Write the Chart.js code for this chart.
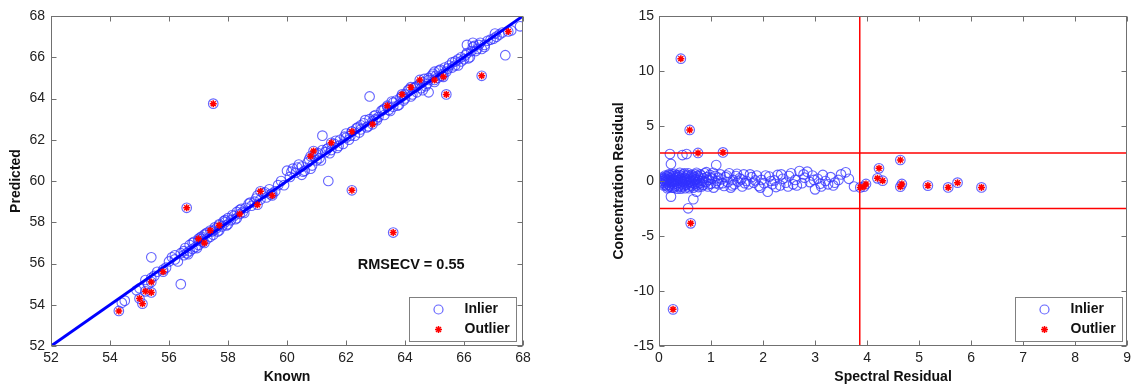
<!DOCTYPE html>
<html>
<head>
<meta charset="utf-8">
<script src="https://cdn.jsdelivr.net/npm/chart.js@4.4.1/dist/chart.umd.min.js"></script>
<style>
  html, body { margin: 0; padding: 0; background: #fff; }
  body { width: 1133px; height: 386px; position: relative; overflow: hidden; }
  .panel { position: absolute; top: 0; height: 386px; }
  #leftPanel { left: 0; width: 560px; }
  #rightPanel { left: 600px; width: 533px; }
</style>
</head>
<body>
<div class="panel" id="leftPanel"><canvas id="predChart"></canvas></div>
<div class="panel" id="rightPanel"><canvas id="residChart"></canvas></div>
<script>
// Tick labels
const knownTicks = [52, 54, 56, 58, 60, 62, 64, 66, 68];
const predictedTicks = [52, 54, 56, 58, 60, 62, 64, 66, 68];
const spectralTicks = [0, 1, 2, 3, 4, 5, 6, 7, 8, 9];
const concTicks = [-15, -10, -5, 0, 5, 10, 15];

// Left plot: known vs predicted
const fitLine = [[52, 52], [68, 68]];
const predInliers = [
    [54.4, 54.1], [54.5, 54.2], [54.9, 54.7], [55.0, 54.8], [55.2, 55.2], [55.3, 55.0], [55.4, 55.3],
    [55.5, 55.4], [55.6, 55.6], [55.8, 55.7], [55.9, 55.8], [56.0, 56.1], [56.1, 56.3], [56.2, 56.2],
    [56.2, 56.4], [56.3, 56.1], [56.4, 56.5], [56.5, 56.4], [56.5, 56.6], [56.6, 56.5], [56.7, 56.9],
    [56.7, 56.6], [56.8, 57.0], [56.8, 56.7], [56.9, 56.8], [57.0, 57.1], [57.0, 56.9], [57.1, 57.2],
    [57.1, 57.3], [57.2, 57.4], [57.3, 57.2], [57.3, 57.5], [57.4, 57.3], [57.5, 57.6], [57.5, 57.4],
    [57.6, 57.7], [57.7, 57.9], [57.7, 57.6], [57.8, 57.8], [57.9, 58.0], [57.9, 58.1], [58.0, 57.9],
    [58.0, 58.2], [58.1, 58.1], [58.2, 58.3], [58.3, 58.2], [58.3, 58.5], [58.4, 58.6], [58.5, 58.5],
    [58.6, 58.7], [58.7, 58.9], [58.8, 58.8], [58.9, 59.0], [59.0, 59.3], [59.1, 59.1], [59.2, 59.4],
    [59.3, 59.2], [59.4, 59.6], [59.5, 59.4], [59.6, 59.5], [59.8, 60.0], [59.9, 59.8], [60.0, 60.5],
    [60.1, 60.2], [60.2, 60.6], [60.3, 60.4], [60.4, 60.8], [60.5, 60.3], [60.5, 60.7], [60.6, 60.5],
    [60.7, 60.9], [60.8, 60.6], [60.9, 61.2], [61.0, 61.0], [61.0, 61.3], [61.1, 61.1], [61.2, 61.5],
    [61.2, 62.2], [61.3, 61.4], [61.4, 61.6], [61.5, 61.5], [61.6, 61.8], [61.7, 61.6], [61.8, 62.0],
    [61.9, 61.8], [62.0, 62.1], [62.0, 62.3], [62.1, 62.0], [62.2, 62.4], [62.3, 62.2], [62.4, 62.6],
    [62.5, 62.5], [62.5, 62.7], [62.6, 62.8], [62.7, 62.6], [62.8, 63.0], [62.9, 62.9], [63.0, 63.2],
    [63.0, 63.0], [63.1, 63.1], [63.2, 63.4], [63.3, 63.2], [63.3, 63.5], [63.4, 63.6], [63.5, 63.4],
    [63.6, 63.8], [63.6, 63.6], [63.7, 63.9], [63.8, 63.7], [63.9, 64.1], [64.0, 64.0], [64.0, 64.2],
    [64.1, 64.4], [64.2, 64.1], [64.3, 64.5], [64.4, 64.3], [64.4, 64.6], [64.5, 64.7], [64.6, 64.4],
    [64.6, 64.8], [64.7, 64.6], [64.8, 65.0], [64.8, 64.9], [64.9, 65.1], [65.0, 64.8], [65.0, 65.3],
    [65.1, 65.0], [65.2, 65.4], [65.3, 65.2], [65.4, 65.3], [65.5, 65.6], [65.6, 65.5], [65.7, 65.8],
    [65.8, 65.9], [65.8, 65.6], [65.9, 66.0], [66.0, 65.9], [66.1, 66.2], [66.2, 66.0], [66.3, 66.5],
    [66.4, 66.3], [66.5, 66.6], [66.6, 66.4], [66.7, 66.6], [66.8, 66.8], [67.0, 66.9], [67.1, 67.0],
    [67.3, 67.2], [67.4, 66.1], [67.6, 67.3], [67.9, 67.5],
    [55.4, 56.3], [56.4, 55.0], [61.4, 60.0], [62.8, 64.1],
    [56.55, 56.75], [56.65, 56.45], [56.85, 57.05], [56.95, 56.75], [57.05, 57.25], [57.15, 57.05],
    [57.25, 57.45], [57.45, 57.55], [57.55, 57.75], [57.65, 57.55], [57.85, 58.05], [57.95, 57.85],
    [58.15, 58.35], [58.25, 58.15], [58.45, 58.65], [58.55, 58.45], [58.75, 58.95], [58.95, 59.15],
    [59.25, 59.45], [59.45, 59.35], [59.7, 59.8], [60.15, 60.45], [60.35, 60.65], [60.55, 60.45],
    [60.75, 61.05], [60.85, 60.75], [61.05, 61.35], [61.15, 61.0], [61.35, 61.55], [61.45, 61.35],
    [61.65, 61.95], [61.75, 61.7], [61.95, 62.15], [62.15, 62.2], [62.35, 62.55], [62.45, 62.35],
    [62.65, 62.95], [62.75, 62.65], [62.95, 63.15], [63.05, 62.95], [63.25, 63.45], [63.45, 63.45],
    [63.55, 63.85], [63.75, 63.65], [63.85, 64.05], [63.95, 63.9], [64.15, 64.45], [64.25, 64.2],
    [64.35, 64.55], [64.55, 64.5], [64.65, 64.95], [64.75, 64.7], [64.95, 65.2], [65.05, 65.1],
    [65.15, 65.35], [65.25, 65.1], [65.35, 65.5], [65.45, 65.45], [65.6, 65.75], [65.7, 65.6],
    [65.9, 65.8], [66.05, 66.1], [66.15, 65.95], [66.25, 66.3], [66.35, 66.55], [66.45, 66.4],
    [66.55, 66.7], [66.7, 66.5], [66.9, 66.85], [67.2, 67.1], [67.05, 67.15], [64.8, 64.3],
    [66.3, 66.7], [66.1, 66.6]
];
const predOutliers = [
    [57.5, 63.75], [56.6, 58.7], [62.2, 59.55], [63.6, 57.5], [54.3, 53.7], [55.0, 54.3], [55.1, 54.05],
    [55.2, 54.65], [55.4, 54.6], [55.4, 55.1], [55.8, 55.6], [57.0, 57.2], [57.2, 57.0], [57.4, 57.6],
    [57.7, 57.85], [58.4, 58.4], [59.0, 58.85], [59.1, 59.5], [59.5, 59.3], [60.9, 61.45], [60.8, 61.2],
    [61.5, 61.85], [62.2, 62.4], [62.9, 62.75], [63.4, 63.65], [63.9, 64.2], [64.2, 64.55], [64.5, 64.9],
    [65.0, 64.9], [65.3, 65.05], [65.4, 64.2], [66.6, 65.1], [67.5, 67.25]
];
const rmsecvLabel = 'RMSECV = 0.55';
const rmsecvAt = [62.4, 55.93];

// Right plot: spectral vs concentration residual
const spectralLimit = 3.86;
const concLimits = [2.55, -2.5];
const residInliers = [
    [0.05, 0.0], [0.07, 0.15], [0.08, -0.15], [0.1, 0.05], [0.1, -0.3], [0.11, 0.3], [0.12, -0.1],
    [0.13, 0.2], [0.14, -0.4], [0.15, 0.0], [0.15, 0.45], [0.16, -0.2], [0.17, 0.1], [0.18, -0.55],
    [0.18, 0.35], [0.19, -0.05], [0.2, 0.2], [0.2, -0.35], [0.21, 0.55], [0.22, 0.0], [0.23, -0.2],
    [0.24, 0.3], [0.25, -0.6], [0.25, 0.1], [0.26, -0.1], [0.27, 0.45], [0.28, -0.3], [0.29, 0.15],
    [0.3, -0.05], [0.3, 0.65], [0.31, -0.45], [0.32, 0.25], [0.33, 0.0], [0.34, -0.25], [0.35, 0.5],
    [0.35, -0.7], [0.36, 0.1], [0.37, -0.15], [0.38, 0.35], [0.39, -0.4], [0.4, 0.05], [0.4, 0.75],
    [0.41, -0.2], [0.42, 0.2], [0.43, -0.55], [0.44, 0.4], [0.45, 0.0], [0.46, -0.3], [0.47, 0.6],
    [0.48, 0.15], [0.49, -0.1], [0.5, 0.3], [0.5, -0.65], [0.51, 0.0], [0.52, -0.35], [0.53, 0.45],
    [0.54, 0.1], [0.55, -0.2], [0.56, 0.7], [0.57, -0.5], [0.58, 0.2], [0.59, -0.05], [0.6, 0.4],
    [0.61, -0.3], [0.62, 0.05], [0.63, 0.55], [0.64, -0.15], [0.65, 0.25], [0.66, -0.6], [0.67, 0.0],
    [0.68, 0.35], [0.69, -0.25], [0.7, 0.6], [0.71, 0.1], [0.72, -0.4], [0.73, 0.2], [0.74, -0.1],
    [0.75, 0.45], [0.76, -0.55], [0.77, 0.05], [0.78, 0.3], [0.8, -0.2], [0.81, 0.5], [0.83, 0.0],
    [0.85, -0.35], [0.86, 0.25], [0.88, 0.7], [0.9, -0.1], [0.92, 0.35], [0.94, -0.5], [0.96, 0.1],
    [0.98, 0.55], [1.0, -0.25], [1.02, 0.2], [1.05, -0.6], [1.08, 0.45], [1.1, 1.45], [1.12, 0.0],
    [1.15, -0.3], [1.18, 0.6], [1.2, 0.15], [1.25, -0.45], [1.28, 0.35], [1.32, -0.1], [1.35, 0.7],
    [1.38, -0.6], [1.42, 0.1], [1.45, -0.3], [1.48, 0.45], [1.52, -0.05], [1.55, 0.25], [1.6, -0.5],
    [1.63, 0.6], [1.68, 0.0], [1.72, -0.3], [1.78, 0.35], [1.82, -0.15], [1.88, 0.5], [1.92, -0.45],
    [1.97, 0.1], [2.02, -0.2], [2.09, -0.97], [2.12, 0.4], [2.18, -0.3], [2.22, 0.05], [2.28, 0.55],
    [2.33, -0.4], [2.38, 0.2], [2.44, -0.15], [2.5, 0.45], [2.54, 0.7], [2.58, -0.3], [2.62, 0.1],
    [2.7, 0.9], [2.75, -0.2], [2.8, 0.3], [2.85, 0.85], [2.9, -0.1], [2.95, 0.5], [3.0, -0.76],
    [3.05, 0.2], [3.1, -0.25], [3.15, 0.55], [3.2, 0.0], [3.25, -0.3], [3.3, 0.35], [3.38, -0.15],
    [3.45, 0.1], [3.59, 0.79], [3.75, -0.5],
    [0.21, 2.45], [0.45, 2.36], [0.53, 2.45], [0.23, 1.55], [0.23, -1.42], [0.56, -2.48], [0.66, -1.66],
    [0.72, -0.97],
    [0.06, 0.3], [0.09, -0.4], [0.12, 0.5], [0.14, 0.15], [0.16, -0.65], [0.19, 0.6], [0.21, -0.45],
    [0.24, -0.05], [0.26, 0.6], [0.29, -0.6], [0.32, 0.5], [0.34, 0.35], [0.37, -0.5], [0.39, 0.55],
    [0.42, -0.7], [0.44, -0.05], [0.47, -0.45], [0.49, 0.7], [0.52, 0.2], [0.55, 0.55], [0.58, -0.65],
    [0.6, -0.1], [0.63, -0.45], [0.66, 0.45], [0.69, 0.15], [0.72, 0.75], [0.75, -0.3], [0.79, 0.6],
    [0.82, -0.5], [0.87, -0.05], [0.91, 0.8], [0.95, -0.3], [0.99, 0.3], [1.04, 0.75], [1.09, -0.2],
    [1.14, 0.3], [1.22, -0.2], [1.3, 0.5], [1.4, -0.4], [1.5, 0.65], [1.58, 0.15], [1.65, -0.2],
    [1.75, 0.6], [1.85, 0.05], [1.95, -0.6], [2.05, 0.5], [2.15, 0.0], [2.25, -0.55], [2.35, 0.6],
    [2.48, -0.5], [2.65, -0.4], [2.78, 0.6], [2.98, 0.1], [3.12, -0.5], [3.35, -0.4], [3.5, 0.6],
    [3.65, 0.2]
];
const residOutliers = [
    [0.42, 11.12], [0.59, 4.64], [0.75, 2.55], [1.23, 2.6], [0.27, -11.67], [0.61, -3.85], [3.87, -0.58],
    [3.94, -0.52], [3.98, -0.27], [4.23, 1.15], [4.2, 0.24], [4.3, 0.03], [4.64, 1.91], [4.67, -0.27],
    [4.64, -0.52], [5.17, -0.42], [5.56, -0.58], [5.74, -0.15], [6.2, -0.58]
];

const circleColor = 'rgba(50, 50, 255, 0.75)';
const starColor = '#ff0000';
const fontFamily = 'Arial, "Liberation Sans", Helvetica, sans-serif';

const toPts = arr => arr.map(([x, y]) => ({ x, y }));

function drawStar(ctx, x, y, r) {
    ctx.beginPath();
    ctx.moveTo(x - r, y); ctx.lineTo(x + r, y);
    ctx.moveTo(x, y - r); ctx.lineTo(x, y + r);
    const d = r * 0.707;
    ctx.moveTo(x - d, y - d); ctx.lineTo(x + d, y + d);
    ctx.moveTo(x - d, y + d); ctx.lineTo(x + d, y - d);
    ctx.stroke();
}

// MATLAB style box, inward ticks, legend and note
const matlabFrame = {
    id: 'matlabFrame',
    afterDatasetsDraw(chart, args, opts) {
        const { ctx, chartArea: a } = chart;
        const xs = chart.scales.x, ys = chart.scales.y;
        ctx.save();
        ctx.strokeStyle = '#707070';
        ctx.lineWidth = 1;
        const L = Math.round(a.left) + 0.5, R = Math.round(a.right) - 0.5;
        const T = Math.round(a.top) + 0.5, B = Math.round(a.bottom) - 0.5;
        ctx.strokeRect(L, T, R - L, B - T);
        ctx.beginPath();
        xs.ticks.forEach(t => {
            const px = Math.round(xs.getPixelForValue(t.value)) + 0.5;
            ctx.moveTo(px, B); ctx.lineTo(px, B - 5);
            ctx.moveTo(px, T); ctx.lineTo(px, T + 5);
        });
        ys.ticks.forEach(t => {
            const py = Math.round(ys.getPixelForValue(t.value)) + 0.5;
            ctx.moveTo(L, py); ctx.lineTo(L + 5, py);
            ctx.moveTo(R, py); ctx.lineTo(R - 5, py);
        });
        ctx.stroke();

        if (opts.note) {
            ctx.fillStyle = '#111';
            ctx.font = 'bold 14.5px ' + fontFamily;
            ctx.textAlign = 'left';
            ctx.textBaseline = 'middle';
            ctx.fillText(opts.note.text, xs.getPixelForValue(opts.note.at[0]), ys.getPixelForValue(opts.note.at[1]));
        }

        // legend
        const bw = 107, bh = 44;
        const bx = Math.round(a.right - opts.legendInset - bw) + 0.5;
        const by = Math.round(a.bottom - 5 - bh) + 0.5;
        ctx.fillStyle = '#fff';
        ctx.fillRect(bx, by, bw, bh);
        ctx.strokeStyle = '#808080';
        ctx.strokeRect(bx, by, bw, bh);
        ctx.strokeStyle = circleColor;
        ctx.lineWidth = 1.2;
        ctx.beginPath();
        ctx.arc(bx + 29, by + 12, 4.5, 0, Math.PI * 2);
        ctx.stroke();
        ctx.strokeStyle = starColor;
        ctx.lineWidth = 1.5;
        drawStar(ctx, bx + 29, by + 32, 3.5);
        ctx.fillStyle = '#111';
        ctx.font = 'bold 14px ' + fontFamily;
        ctx.textAlign = 'left';
        ctx.textBaseline = 'middle';
        ctx.fillText('Inlier', bx + 55, by + 12);
        ctx.fillText('Outlier', bx + 55, by + 32);
        ctx.restore();
    }
};

function axis(title, ticks, size, isY, titlePad, tickPad) {
    return {
        type: 'linear',
        position: isY ? 'left' : 'bottom',
        min: ticks[0],
        max: ticks[ticks.length - 1],
        afterBuildTicks: scale => { scale.ticks = ticks.map(v => ({ value: v })); },
        afterFit: scale => {
            if (isY) scale.width = size; else scale.height = size;
            scale.paddingLeft = 0; scale.paddingRight = 0;
            scale.paddingTop = 0; scale.paddingBottom = 0;
        },
        grid: { display: false, drawTicks: false, tickLength: 0 },
        border: { display: false },
        ticks: {
            color: '#222',
            padding: tickPad,
            maxRotation: 0,
            autoSkip: false,
            font: { family: fontFamily, size: 14 }
        },
        title: {
            display: true,
            text: title,
            color: '#111',
            padding: titlePad,
            font: { family: fontFamily, size: 14, weight: 'bold', lineHeight: 1.2 }
        }
    };
}

function baseOptions(xAxis, yAxis, padding, frameOpts) {
    return {
        responsive: true,
        maintainAspectRatio: false,
        animation: false,
        events: [],
        layout: { padding },
        plugins: {
            legend: { display: false },
            tooltip: { enabled: false },
            matlabFrame: frameOpts
        },
        scales: { x: xAxis, y: yAxis }
    };
}

function circles(pts) {
    return {
        data: toPts(pts),
        pointStyle: 'circle',
        pointRadius: 4.8,
        pointBorderWidth: 1.1,
        pointBorderColor: circleColor,
        pointBackgroundColor: 'rgba(0,0,0,0)',
        showLine: false
    };
}

function stars(pts) {
    return {
        data: toPts(pts),
        pointStyle: 'star',
        pointRadius: 3.5,
        pointBorderWidth: 1.5,
        pointBorderColor: starColor,
        pointBackgroundColor: starColor,
        showLine: false
    };
}

function redLine(pts) {
    return {
        data: toPts(pts),
        showLine: true,
        borderColor: '#ff0000',
        borderWidth: 1.5,
        pointRadius: 0
    };
}

// Left chart
new Chart(document.getElementById('predChart'), {
    type: 'scatter',
    data: {
        datasets: [
            stars(predOutliers),
            {
                data: toPts(fitLine),
                showLine: true,
                borderColor: '#0000ff',
                borderWidth: 3,
                pointRadius: 0
            },
            circles(predInliers.concat(predOutliers))
        ]
    },
    options: baseOptions(
        axis('Known', knownTicks, 40, false, { top: 0, bottom: 0 }, 4),
        axis('Predicted', predictedTicks, 51, true, { top: 7.6, bottom: 0 }, 6),
        { top: 16, right: 37, left: 0, bottom: 0 },
        { note: { text: rmsecvLabel, at: rmsecvAt }, legendInset: 7 }
    ),
    plugins: [matlabFrame]
});

// Right chart
new Chart(document.getElementById('residChart'), {
    type: 'scatter',
    data: {
        datasets: [
            stars(residOutliers),
            redLine([[spectralLimit, concTicks[0]], [spectralLimit, concTicks[concTicks.length - 1]]]),
            redLine([[spectralTicks[0], concLimits[0]], [spectralTicks[spectralTicks.length - 1], concLimits[0]]]),
            redLine([[spectralTicks[0], concLimits[1]], [spectralTicks[spectralTicks.length - 1], concLimits[1]]]),
            circles(residInliers.concat(residOutliers))
        ]
    },
    options: baseOptions(
        axis('Spectral Residual', spectralTicks, 40, false, { top: 0, bottom: 0 }, 4),
        axis('Concentration Residual', concTicks, 59, true, { top: 10.6, bottom: 0 }, 5),
        { top: 16, right: 3, left: 0, bottom: 0 },
        { legendInset: 5 }
    ),
    plugins: [matlabFrame]
});
</script>
</body>
</html>
